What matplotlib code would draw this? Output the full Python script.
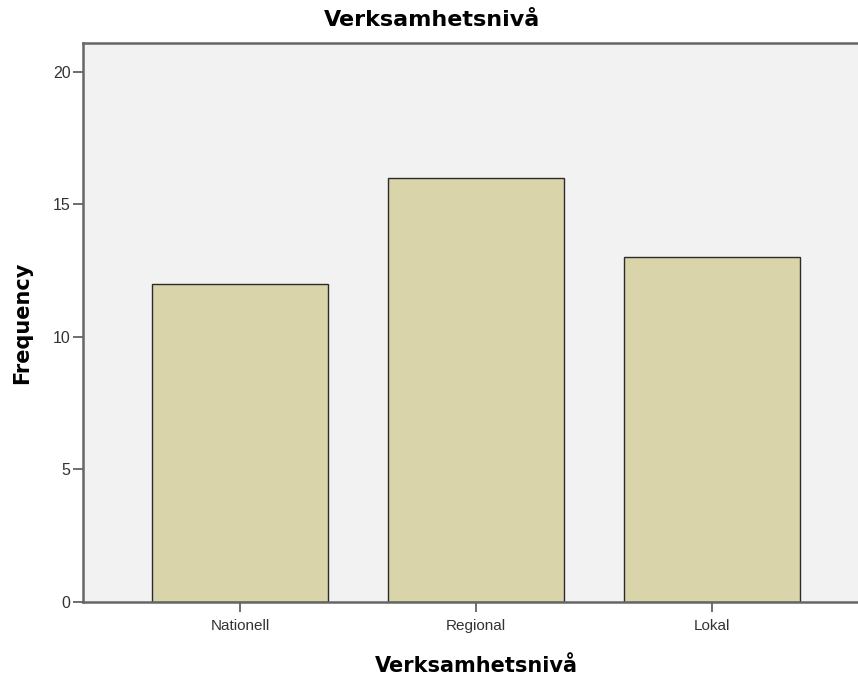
import matplotlib.pyplot as plt
import numpy as np

categories = ['Nationell', 'Regional', 'Lokal']
frequency = [12, 16, 13]
yticks = [0, 5, 10, 15, 20]

fig = plt.figure(figsize=(8.58, 6.78), dpi=100)
# axes runs a bit past the right edge of the picture, as in the original
ax = fig.add_axes([83 / 858, 76 / 678, 786 / 858, 559 / 678])
ax.set_facecolor('#f2f2f2')

x = np.arange(len(categories))
ax.bar(x, frequency, width=0.746, color='#d9d4a9', edgecolor='#2b2b2b', linewidth=1.0, zorder=2)

ax.set_xlim(-0.665, 2.665)
ax.set_ylim(0, 21.09)
ax.set_xticks(x)
ax.set_xticklabels(categories, fontsize=11, family='Liberation Sans', color='#333333')
ax.set_yticks(yticks)
ax.set_yticklabels([str(t) for t in yticks], fontsize=11.5, family='Liberation Sans', color='#333333')
ax.tick_params(axis='both', length=7, width=1.2, color='#555555', pad=2)
ax.tick_params(axis='x', pad=5)

for s in ['left', 'bottom', 'top']:
    ax.spines[s].set_color('#666666')
    ax.spines[s].set_linewidth(1.8)
ax.spines['right'].set_visible(False)

ax.set_xlabel('Verksamhetsnivå', fontsize=15, fontweight='bold', labelpad=17)
ax.set_ylabel('Frequency', fontsize=15, fontweight='bold', labelpad=15)
fig.text(432 / 858, 1 - 20 / 678, 'Verksamhetsnivå', fontsize=16, fontweight='bold',
         ha='center', va='center')

fig.savefig('out.png', dpi=100)
